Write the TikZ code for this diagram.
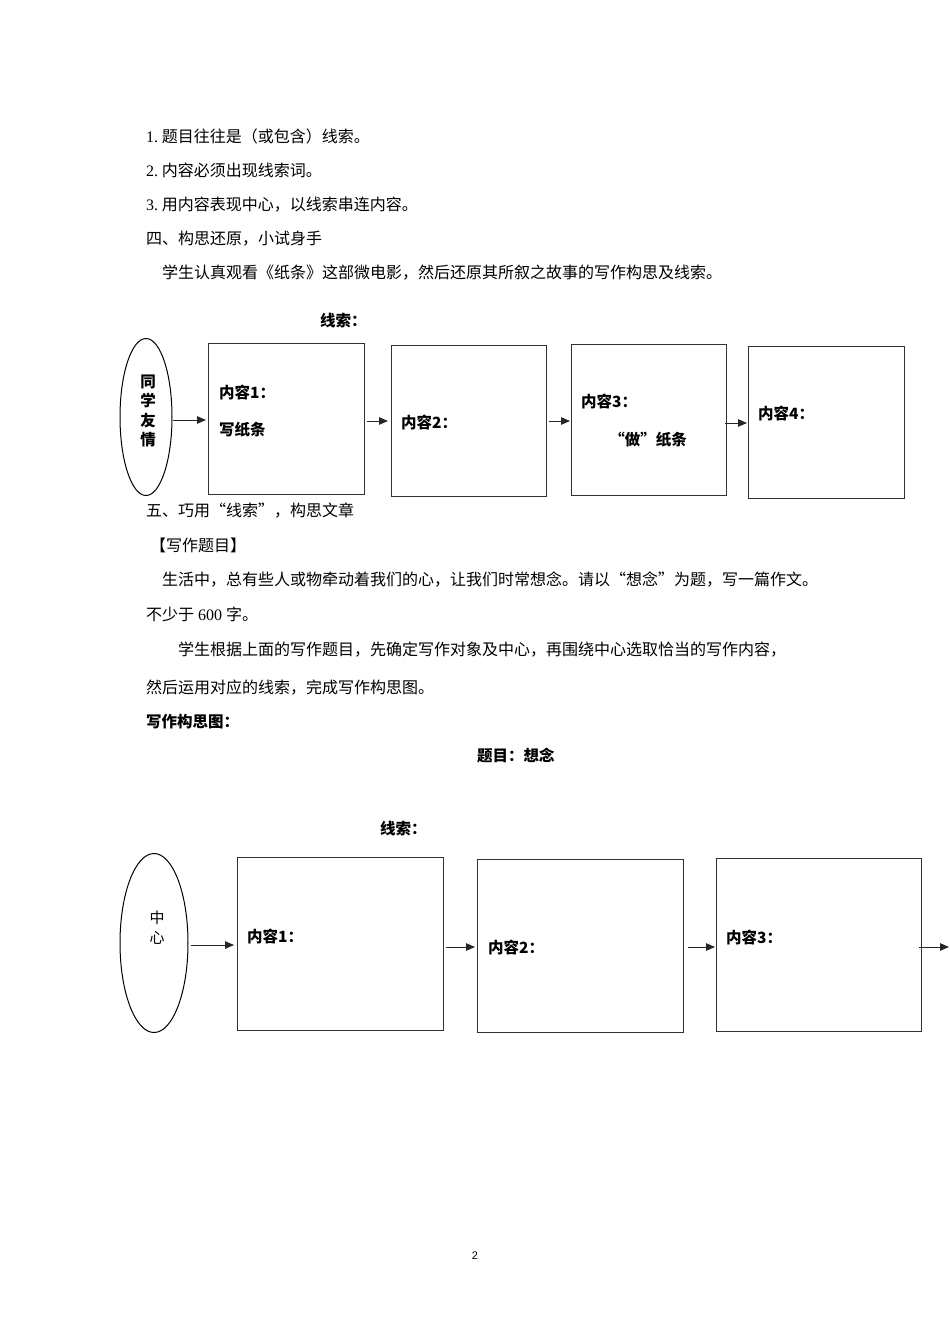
\documentclass[tikz,border=0pt]{standalone}
\usepackage{fontspec}
\newfontfamily\cjk{Noto Sans CJK SC}
\newfontfamily\lat{Liberation Serif}
\usetikzlibrary{arrows.meta,shapes.geometric}
\begin{document}
\begin{tikzpicture}[x=1pt,y=-1pt,
  body/.style={anchor=west,inner sep=0pt,font=\cjk\fontsize{16}{19}\selectfont},
  lbl/.style={anchor=west,inner sep=0pt,font=\cjk\bfseries\fontsize{15.5}{18}\selectfont},
  ctr/.style={inner sep=0pt,font=\cjk\bfseries\fontsize{15.5}{18}\selectfont},
  box/.style={draw=black!80,line width=1.2pt,inner sep=0pt,anchor=north west},
  oval/.style={draw=black,line width=1pt,ellipse,inner sep=0pt},
  arr/.style={-{Triangle[length=9pt,width=7.5pt]},line width=1pt,draw=black!85}]
\useasboundingbox[fill=white] (0,0) rectangle (950,1344);

% ---- body text, part 1
\node[body] (t1) at (146,136) {{\lat 1.}\ 题目往往是（或包含）线索。};
\node[body] (t2) at (146,170) {{\lat 2.}\ 内容必须出现线索词。};
\node[body] (t3) at (146,205) {{\lat 3.}\ 用内容表现中心，以线索串连内容。};
\node[body] (t4) at (146,239) {四、构思还原，小试身手};
\node[body] (t5) at (162,273) {学生认真观看《纸条》这部微电影，然后还原其所叙之故事的写作构思及线索。};

% ---- diagram 1
\node[lbl] (xs1) at (320,321) {线索：};
\node[oval,minimum width=52pt,minimum height=157pt] (e1) at (146,417) {};
\node[ctr,align=center,font=\cjk\bfseries\fontsize{15.5}{19.5}\selectfont] (e1t) at (148,411) {同\\学\\友\\情};
\node[box,minimum width=156pt,minimum height=151pt] (a1) at (208,343) {};
\node[box,minimum width=155pt,minimum height=151pt] (a2) at (391,345) {};
\node[box,minimum width=155pt,minimum height=151pt] (a3) at (571,344) {};
\node[box,minimum width=156pt,minimum height=152pt] (a4) at (748,346) {};
\node[lbl] (a1l) at (219,393) {内容1：};
\node[lbl] (a1m) at (219,430) {写纸条};
\node[lbl] (a2l) at (401,423) {内容2：};
\node[lbl] (a3l) at (581,402) {内容3：};
\node[ctr] (a3m) at (648,440) {“做”纸条};
\node[lbl] (a4l) at (758,414) {内容4：};
\draw[arr] (e1.east |- 0,420) -- ([xshift=-2pt]a1.west |- 0,420);
\draw[arr] ([xshift=2pt]a1.east |- 0,421) -- ([xshift=-3pt]a2.west |- 0,421);
\draw[arr] ([xshift=2pt]a2.east |- 0,421) -- ([xshift=-1pt]a3.west |- 0,421);
\draw[arr] ([xshift=-2pt]a3.east |- 0,423) -- ([xshift=-1pt]a4.west |- 0,423);

% ---- body text, part 2
\node[body] (t6) at (146,511) {五、巧用“线索”，构思文章};
\node[body] (t7) at (150,545) {【写作题目】};
\node[body] (t8) at (162,579) {生活中，总有些人或物牵动着我们的心，让我们时常想念。请以“想念”为题，写一篇作文。};
\node[body] (t9) at (146,614) {不少于{\lat\ 600 }字。};
\node[body] (t10) at (178,650) {学生根据上面的写作题目，先确定写作对象及中心，再围绕中心选取恰当的写作内容，};
\node[body] (t11) at (146,688) {然后运用对应的线索，完成写作构思图。};
\node[lbl] (t12) at (146,722) {写作构思图：};
\node[lbl] (t13) at (477,755) {题目：想念};

% ---- diagram 2
\node[lbl] (xs2) at (380,829) {线索：};
\node[oval,minimum width=68pt,minimum height=179pt] (e2) at (154,943) {};
\node[inner sep=0pt,align=center,font=\cjk\fontsize{15}{20}\selectfont] (e2t) at (157,928) {中\\心};
\node[box,minimum width=206pt,minimum height=173pt] (b1) at (237,857) {};
\node[box,minimum width=206pt,minimum height=173pt] (b2) at (477,859) {};
\node[box,minimum width=205pt,minimum height=173pt] (b3) at (716,858) {};
\node[lbl] (b1l) at (247,937) {内容1：};
\node[lbl] (b2l) at (488,948) {内容2：};
\node[lbl] (b3l) at (726,938) {内容3：};
\coordinate (bend) at (949,947);
\draw[arr] ([xshift=2pt]e2.east |- 0,945) -- ([xshift=-3pt]b1.west |- 0,945);
\draw[arr] ([xshift=2pt]b1.east |- 0,947) -- ([xshift=-2pt]b2.west |- 0,947);
\draw[arr] ([xshift=4pt]b2.east |- 0,947) -- ([xshift=-1pt]b3.west |- 0,947);
\draw[arr] ([xshift=-3pt]b3.east |- 0,947) -- (bend);

% ---- page number
\node[inner sep=0pt,font=\fontspec{Liberation Sans}\fontsize{11}{13}\selectfont] (pg) at (475,1256) {2};
\end{tikzpicture}
\end{document}
